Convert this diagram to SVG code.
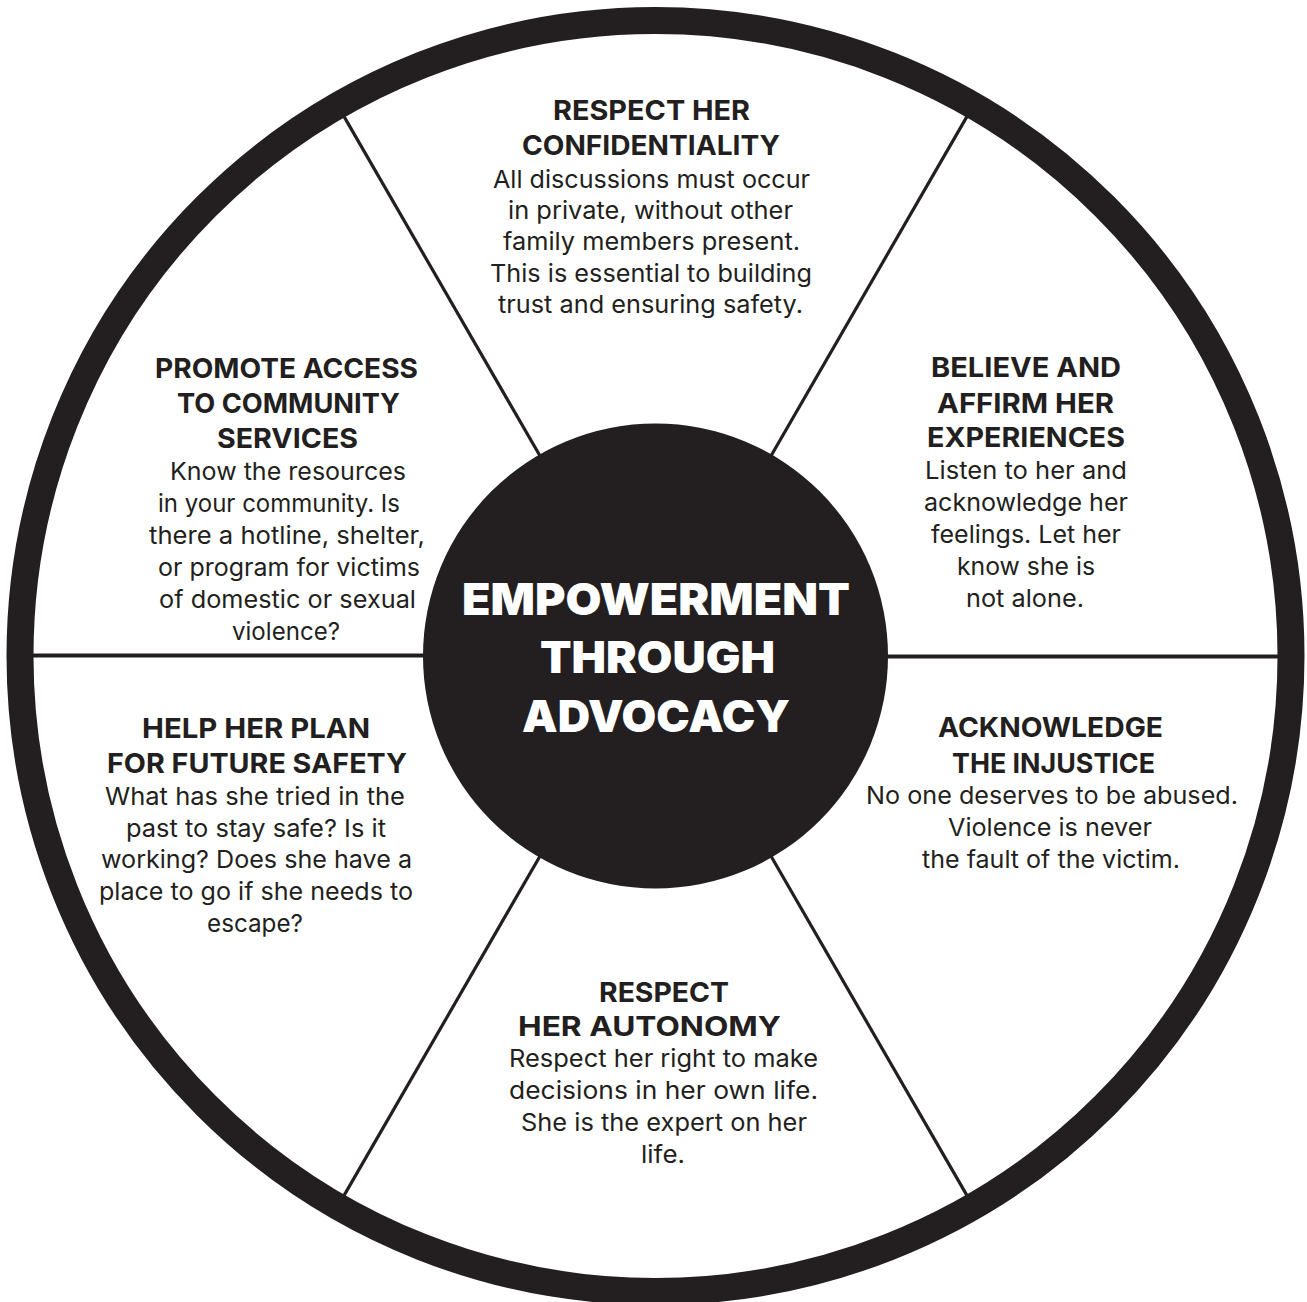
<svg xmlns="http://www.w3.org/2000/svg" width="1307" height="1302" viewBox="0 0 1307 1302">
<style>
.bg{fill:#ffffff}
.ring{fill:none;stroke:#231f20;stroke-width:27}
.hub{fill:#231f20}
.spoke-h{stroke:#231f20;stroke-width:4}
.spoke-d{stroke:#231f20;stroke-width:3.2}
text{text-anchor:middle;font-family:Inter,"Liberation Sans",sans-serif;fill:#231f20}
.h{font-size:27.5px;font-weight:700}
.b{font-size:24.5px;font-weight:400}
.c{font-size:44px;font-weight:900;fill:#ffffff}
</style>
<rect class="bg" x="0" y="0" width="1307" height="1302"/>
<g id="connectors">
<line class="spoke-d" x1="540.5" y1="456.8" x2="341.5" y2="112.1"/>
<line class="spoke-d" x1="770.5" y1="456.8" x2="969.5" y2="112.1"/>
<line class="spoke-d" x1="540.5" y1="855.2" x2="341.5" y2="1199.9"/>
<line class="spoke-d" x1="770.5" y1="855.2" x2="969.5" y2="1199.9"/>
<line class="spoke-h" x1="425.5" y1="655.5" x2="27.5" y2="655.5"/>
<line class="spoke-h" x1="885.5" y1="656.5" x2="1283.5" y2="656.5"/>
</g>
<g id="wheel-rim">
<circle class="ring" cx="655.5" cy="656" r="635.5"/>
</g>
<g id="node-center">
<circle class="hub" cx="655.5" cy="656" r="232.5"/>
<text class="c" x="656" y="615" textLength="388" lengthAdjust="spacingAndGlyphs">EMPOWERMENT</text>
<text class="c" x="657.5" y="673" textLength="235" lengthAdjust="spacingAndGlyphs">THROUGH</text>
<text class="c" x="656" y="732" textLength="268" lengthAdjust="spacingAndGlyphs">ADVOCACY</text>
</g>
<g id="node-confidentiality">
<text class="h" x="651.5" y="120" textLength="197" lengthAdjust="spacingAndGlyphs">RESPECT HER</text>
<text class="h" x="651" y="155" textLength="258" lengthAdjust="spacingAndGlyphs">CONFIDENTIALITY</text>
<text class="b" x="651.5" y="188" textLength="317" lengthAdjust="spacingAndGlyphs">All discussions must occur</text>
<text class="b" x="650.5" y="219" textLength="285" lengthAdjust="spacingAndGlyphs">in private, without other</text>
<text class="b" x="651.5" y="250" textLength="297" lengthAdjust="spacingAndGlyphs">family members present.</text>
<text class="b" x="651" y="282" textLength="322" lengthAdjust="spacingAndGlyphs">This is essential to building</text>
<text class="b" x="650.5" y="313" textLength="305" lengthAdjust="spacingAndGlyphs">trust and ensuring safety.</text>
</g>
<g id="node-believe">
<text class="h" x="1026" y="377" textLength="190" lengthAdjust="spacingAndGlyphs">BELIEVE AND</text>
<text class="h" x="1025.5" y="413" textLength="177" lengthAdjust="spacingAndGlyphs">AFFIRM HER</text>
<text class="h" x="1026" y="447" textLength="198" lengthAdjust="spacingAndGlyphs">EXPERIENCES</text>
<text class="b" x="1026" y="479" textLength="202" lengthAdjust="spacingAndGlyphs">Listen to her and</text>
<text class="b" x="1026" y="511" textLength="204" lengthAdjust="spacingAndGlyphs">acknowledge her</text>
<text class="b" x="1026" y="543" textLength="190" lengthAdjust="spacingAndGlyphs">feelings. Let her</text>
<text class="b" x="1026" y="575" textLength="138" lengthAdjust="spacingAndGlyphs">know she is</text>
<text class="b" x="1025" y="607" textLength="118" lengthAdjust="spacingAndGlyphs">not alone.</text>
</g>
<g id="node-injustice">
<text class="h" x="1050.5" y="737" textLength="225" lengthAdjust="spacingAndGlyphs">ACKNOWLEDGE</text>
<text class="h" x="1053.5" y="773" textLength="203" lengthAdjust="spacingAndGlyphs">THE INJUSTICE</text>
<text class="b" x="1052" y="804" textLength="372" lengthAdjust="spacingAndGlyphs">No one deserves to be abused.</text>
<text class="b" x="1050" y="836" textLength="204" lengthAdjust="spacingAndGlyphs">Violence is never</text>
<text class="b" x="1051" y="868" textLength="258" lengthAdjust="spacingAndGlyphs">the fault of the victim.</text>
</g>
<g id="node-autonomy">
<text class="h" x="664" y="1002" textLength="130" lengthAdjust="spacingAndGlyphs">RESPECT</text>
<text class="h" x="649.5" y="1036" textLength="263" lengthAdjust="spacingAndGlyphs">HER AUTONOMY</text>
<text class="b" x="663.5" y="1067" textLength="309" lengthAdjust="spacingAndGlyphs">Respect her right to make</text>
<text class="b" x="663.5" y="1099" textLength="309" lengthAdjust="spacingAndGlyphs">decisions in her own life.</text>
<text class="b" x="664" y="1131" textLength="286" lengthAdjust="spacingAndGlyphs">She is the expert on her</text>
<text class="b" x="663" y="1163" textLength="44" lengthAdjust="spacingAndGlyphs">life.</text>
</g>
<g id="node-safety">
<text class="h" x="256" y="738" textLength="228" lengthAdjust="spacingAndGlyphs">HELP HER PLAN</text>
<text class="h" x="257" y="773" textLength="300" lengthAdjust="spacingAndGlyphs">FOR FUTURE SAFETY</text>
<text class="b" x="255" y="805" textLength="300" lengthAdjust="spacingAndGlyphs">What has she tried in the</text>
<text class="b" x="256" y="837" textLength="260" lengthAdjust="spacingAndGlyphs">past to stay safe? Is it</text>
<text class="b" x="256.5" y="868" textLength="311" lengthAdjust="spacingAndGlyphs">working? Does she have a</text>
<text class="b" x="256" y="900" textLength="314" lengthAdjust="spacingAndGlyphs">place to go if she needs to</text>
<text class="b" x="255" y="932" textLength="96" lengthAdjust="spacingAndGlyphs">escape?</text>
</g>
<g id="node-community">
<text class="h" x="286.5" y="378" textLength="263" lengthAdjust="spacingAndGlyphs">PROMOTE ACCESS</text>
<text class="h" x="288.5" y="413" textLength="223" lengthAdjust="spacingAndGlyphs">TO COMMUNITY</text>
<text class="h" x="287.5" y="448" textLength="141" lengthAdjust="spacingAndGlyphs">SERVICES</text>
<text class="b" x="288" y="480" textLength="236" lengthAdjust="spacingAndGlyphs">Know the resources</text>
<text class="b" x="279" y="512" textLength="242" lengthAdjust="spacingAndGlyphs">in your community. Is</text>
<text class="b" x="287" y="544" textLength="276" lengthAdjust="spacingAndGlyphs">there a hotline, shelter,</text>
<text class="b" x="289" y="576" textLength="262" lengthAdjust="spacingAndGlyphs">or program for victims</text>
<text class="b" x="287.5" y="608" textLength="257" lengthAdjust="spacingAndGlyphs">of domestic or sexual</text>
<text class="b" x="286" y="640" textLength="108" lengthAdjust="spacingAndGlyphs">violence?</text>
</g>
</svg>
